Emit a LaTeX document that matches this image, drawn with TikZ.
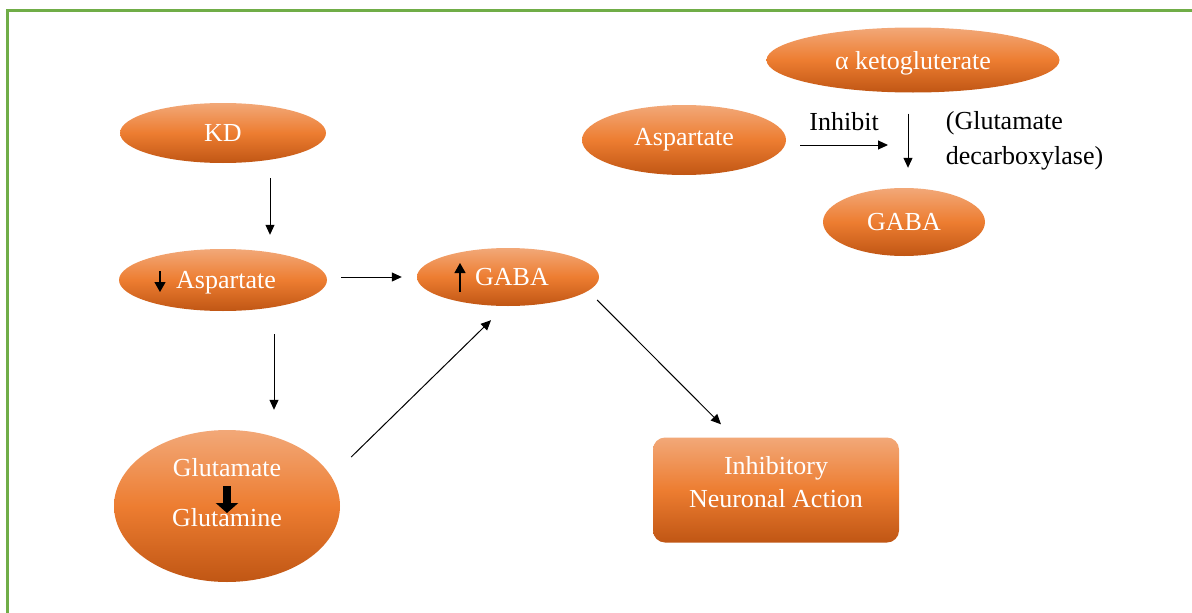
\documentclass[tikz,border=0pt]{standalone}
\usepackage{fontspec}
\setmainfont{Liberation Serif}
\usetikzlibrary{shapes.geometric, arrows.meta, positioning}
\definecolor{orTop}{RGB}{242,168,120}
\definecolor{orMid}{RGB}{237,125,49}
\definecolor{orBot}{RGB}{192,86,20}
\definecolor{frameGreen}{RGB}{112,173,71}

\begin{document}
\begin{tikzpicture}[x=1pt, y=-1pt, on grid,
        font=\fontsize{26}{30}\selectfont,
        oval/.style={ellipse, shade, top color=orTop, bottom color=orBot, middle color=orMid, text=white, inner sep=0pt},
        box/.style={rectangle, rounded corners=12pt, shade, top color=orTop, bottom color=orBot, middle color=orMid, text=white, align=center},
        arr/.style={-{Triangle[length=10pt,width=9pt]}, line width=1pt},
        tinyarr/.style={-{Triangle[length=10pt,width=11pt]}, line width=1.3pt},
        fatarr/.style={-{Triangle[length=10pt,width=22pt]}, line width=8pt}]
        \useasboundingbox (0,0) rectangle (1192,613);
        \draw[frameGreen, line width=3pt] (7,613) -- (7,10) -- (1192,10);
        % left pathway
        \node[oval, minimum width=206pt, minimum height=60pt] (kd) at (223,133) {KD};
        \node[oval, minimum width=208pt, minimum height=62pt, text depth=0pt] (aspL) [below=147pt of kd] {\hspace{6pt}Aspartate};
        \node[oval, minimum width=226pt, minimum height=152pt, align=center] (glu) [below=226pt of aspL, xshift=4pt]
            {Glutamate\\[20pt]Glutamine\rule[-28pt]{0pt}{28pt}};
        \node[oval, minimum width=182pt, minimum height=58pt] (gabaU) [right=285pt of aspL, yshift=3pt] {\hspace{8pt}GABA};
        \node[box, minimum width=246pt, minimum height=105pt] (inh) [below right=213pt and 268pt of gabaU]
            {Inhibitory\\[3pt]Neuronal Action\rule[-17pt]{0pt}{17pt}};
        % right pathway
        \node[oval, minimum width=204pt, minimum height=70pt] (aspR) at (684,140) {Aspartate};
        \node[oval, minimum width=293pt, minimum height=65pt, text depth=0pt] (keto) [above right=80pt and 229pt of aspR] {α ketogluterate};
        \node[oval, minimum width=162pt, minimum height=68pt] (gabaR) [below right=82pt and 220pt of aspR] {GABA};
        \coordinate (block) at (888,145);

        \draw[arr, shorten <=15pt, shorten >=14pt] ([xshift=47pt]kd.south) -- ([xshift=47pt]aspL.north);
        \draw[arr, shorten <=23pt, shorten >=20pt] ([xshift=51pt]aspL.south) -- ([xshift=47pt]glu.north);
        \draw[arr, shorten <=14pt, shorten >=15pt] ([yshift=3pt]aspL.east) -- (gabaU.west);
        \draw[arr] ([shift={(11pt,49pt)}]glu.east) -- ([shift={(-17pt,-14pt)}]gabaU.south);
        \draw[arr] ([shift={(-2pt,-23pt)}]gabaU.east) -- ([shift={(-55pt,13pt)}]inh.north);
        \draw[arr] ([shift={(14pt,-5pt)}]aspR.east) -- node[above=10pt] {Inhibit} (block);
        \draw[arr] ([shift={(-5pt,-21pt)}]keto.south) -- node[right=34pt, align=left] {(Glutamate\\[5pt]decarboxylase)} ([shift={(4pt,20pt)}]gabaR.north);

        % marks inside the ovals
        \draw[tinyarr] ([shift={(-63pt,9pt)}]aspL.center) -- ++(0,21);
        \draw[tinyarr] ([shift={(-48pt,-15pt)}]gabaU.center) -- ++(0,-29);
        \draw[fatarr] ([shift={(0pt,20pt)}]glu.center) -- ++(0,27);
    \end{tikzpicture}
\end{document}
